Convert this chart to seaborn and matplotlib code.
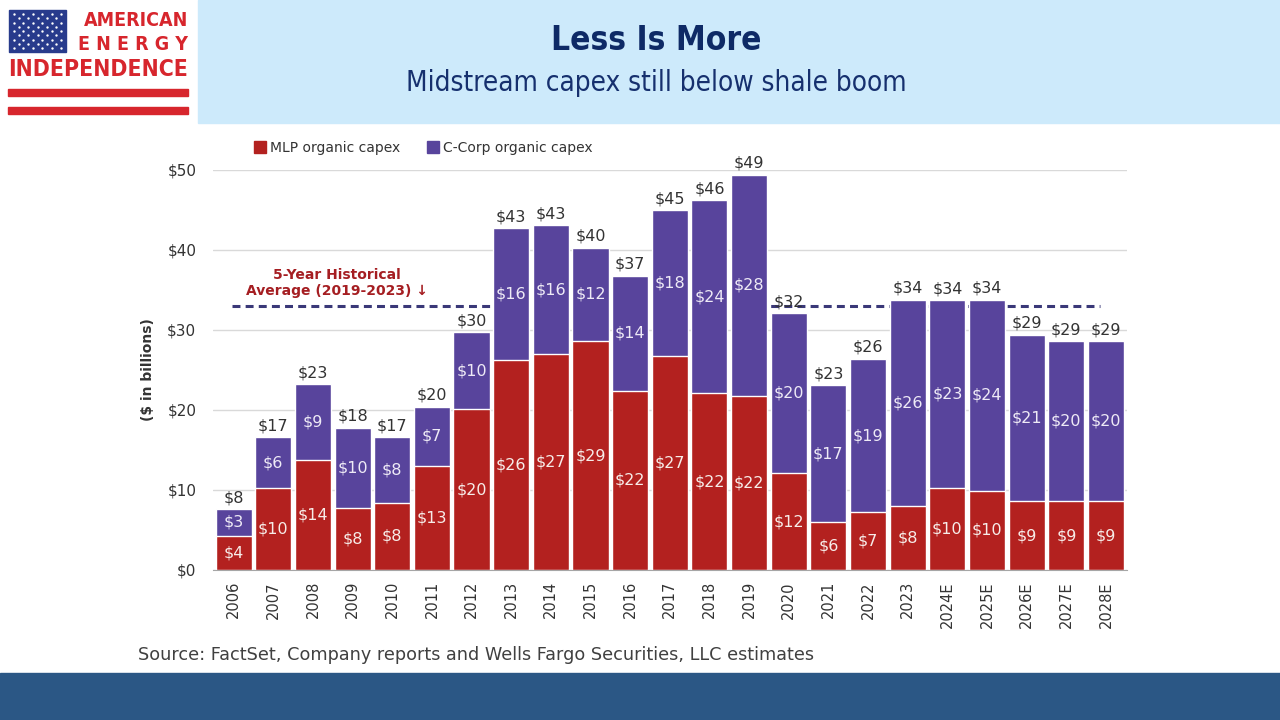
import numpy as np
import pandas as pd
import seaborn as sns
import matplotlib.pyplot as plt
from matplotlib.patches import Rectangle
from matplotlib.lines import Line2D

# data ($ billions)
years = ['2006', '2007', '2008', '2009', '2010', '2011', '2012', '2013', '2014', '2015',
         '2016', '2017', '2018', '2019', '2020', '2021', '2022', '2023',
         '2024E', '2025E', '2026E', '2027E', '2028E']
mlp_capex = [4.3, 10.2, 13.8, 7.7, 8.4, 13.0, 20.1, 26.3, 27.0, 28.6,
             22.4, 26.7, 22.1, 21.8, 12.1, 6.0, 7.2, 8.0,
             10.3, 9.9, 8.6, 8.6, 8.6]
ccorp_capex = [3.3, 6.4, 9.4, 10.1, 8.2, 7.4, 9.6, 16.4, 16.1, 11.7,
               14.4, 18.3, 24.1, 27.6, 20.0, 17.1, 19.2, 25.8,
               23.4, 23.9, 20.8, 20.0, 20.0]
avg_years = ['2019', '2020', '2021', '2022', '2023']

red = '#b3211f'
purple = '#58449c'

df = pd.DataFrame({'year': years, 'mlp': mlp_capex, 'ccorp': ccorp_capex})
df['total'] = df['mlp'] + df['ccorp']
avg = df.loc[df['year'].isin(avg_years), 'total'].mean()

sns.set_style('white')
plt.rcParams['font.family'] = ['DejaVu Sans']

fig = plt.figure(figsize=(12.8, 7.2), dpi=100)

# header band + footer band
fig.patches.append(Rectangle((198 / 1280, 1 - 123 / 720), 1, 123 / 720,
                             transform=fig.transFigure, color='#cdeafb', zorder=0))
fig.patches.append(Rectangle((0, 0), 1, 47 / 720, transform=fig.transFigure,
                             color='#2b5785', zorder=0))

# logo
lg = fig.add_axes([0, 1 - 125 / 720, 198 / 1280, 125 / 720])
lg.set_xlim(0, 198)
lg.set_ylim(125, 0)
lg.axis('off')
lg.add_patch(Rectangle((9, 10), 57, 42, color='#283b8c'))
sx, sy = np.meshgrid(np.linspace(14, 61, 6), np.linspace(14, 48, 5))
lg.scatter(sx.ravel(), sy.ravel(), s=3, color='white', lw=0)
sx, sy = np.meshgrid(np.linspace(18.7, 56.3, 5), np.linspace(18.25, 43.75, 4))
lg.scatter(sx.ravel(), sy.ravel(), s=3, color='white', lw=0)
logo_red = '#d7262d'
lg.text(188, 20, 'AMERICAN', ha='right', va='center', color=logo_red,
        fontsize=14, fontweight='bold', fontstretch='condensed')
lg.text(188, 45, 'E N E R G Y', ha='right', va='center', color=logo_red,
        fontsize=14, fontweight='bold', fontstretch='condensed')
lg.text(98, 70, 'INDEPENDENCE', ha='center', va='center', color=logo_red,
        fontsize=16.5, fontweight='bold', fontstretch='condensed')
lg.add_patch(Rectangle((8, 89), 180, 7, color=logo_red))
lg.add_patch(Rectangle((8, 107), 180, 7, color=logo_red))

fig.text(656 / 1280, 1 - 40 / 720, 'Less Is More', ha='center', va='center',
         fontsize=24, fontweight='bold', color='#0e2a66', fontstretch='condensed')
fig.text(656 / 1280, 1 - 83 / 720, 'Midstream capex still below shale boom',
         ha='center', va='center', fontsize=20, color='#16306e', fontstretch='condensed')

# chart
ax = fig.add_axes([213 / 1280, 1 - 570 / 720, (1127 - 213) / 1280, 400 / 720])
sns.barplot(data=df, x='year', y='total', color=purple, saturation=1, width=0.91,
            edgecolor='white', linewidth=1, ax=ax)
sns.barplot(data=df, x='year', y='mlp', color=red, saturation=1, width=0.91,
            edgecolor='white', linewidth=1, ax=ax)

ax.hlines(avg, -0.05, 21.85, colors='#3a3878', linewidth=2.2,
          linestyles=(0, (2.6, 1.7)), zorder=0.8)
ax.text(2.6, avg + 2.9, '5-Year Historical\nAverage (2019-2023) \u2193', ha='center',
        va='center', color='#a51e22', fontsize=10, fontweight='bold', linespacing=1.15)

for i, row in df.iterrows():
    ax.text(i, row['mlp'] / 2, f"${row['mlp']:.0f}", ha='center', va='center',
            color='#f7ece8', fontsize=11.5)
    ax.text(i, row['mlp'] + row['ccorp'] / 2, f"${row['ccorp']:.0f}", ha='center',
            va='center', color='#eeeaf6', fontsize=11.5)
    ax.text(i, row['total'] + 0.5, f"${row['total']:.0f}", ha='center', va='bottom',
            color='#333333', fontsize=11.5)

ax.set_xlim(-0.52, 22.53)
ax.set_ylim(0, 50)
ax.set_yticks(range(0, 51, 10))
ax.set_yticklabels([f'${v}' for v in range(0, 51, 10)])
ax.set_xlabel('')
ax.set_ylabel('')
ax.set_axisbelow(True)
ax.yaxis.grid(True, color='#d9d9d9', linewidth=1)
ax.xaxis.grid(False)
for s in ['top', 'right', 'left']:
    ax.spines[s].set_visible(False)
ax.spines['bottom'].set_color('#a6a6a6')
ax.set_xticks(np.arange(-0.5, len(years), 1), minor=True)
ax.tick_params(axis='x', which='major', length=0, labelrotation=90, labelsize=10.5,
               labelcolor='#333333', pad=8)
ax.tick_params(axis='x', which='minor', length=6, color='#a6a6a6')
ax.tick_params(axis='y', length=0, labelsize=11, labelcolor='#333333', pad=12)

fig.text(148 / 1280, 1 - 370 / 720, '($ in billions)', rotation=90, ha='center',
         va='center', fontsize=10, fontweight='bold', color='#333333')

handles = [Line2D([], [], marker='s', ls='', color=red, markersize=8),
           Line2D([], [], marker='s', ls='', color=purple, markersize=8)]
fig.legend(handles, ['MLP organic capex', 'C-Corp organic capex'], loc='center left',
           bbox_to_anchor=(242 / 1280, 1 - 148 / 720), ncol=2, frameon=False,
           fontsize=10, handlelength=0.8, handletextpad=0.3, columnspacing=2.0,
           labelcolor='#333333')

fig.text(138 / 1280, 1 - 655 / 720,
         'Source: FactSet, Company reports and Wells Fargo Securities, LLC estimates',
         ha='left', va='center', fontsize=12.7, color='#404040')

fig.savefig('out.png', dpi=100)
